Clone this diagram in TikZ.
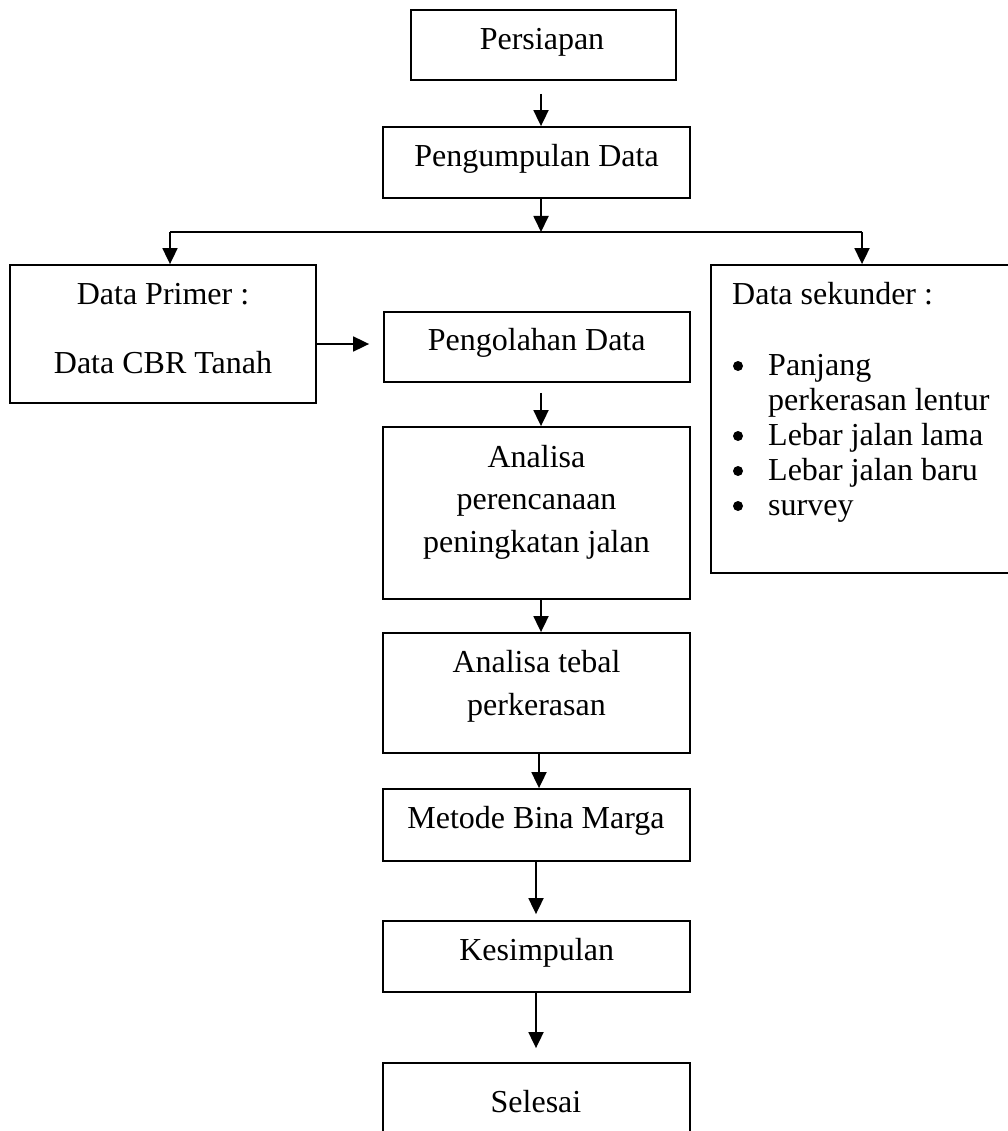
\documentclass[tikz,border=0pt]{standalone}
\usepackage{fontspec}
\setmainfont{Liberation Serif}
\usetikzlibrary{arrows.meta}
\begin{document}
\begin{tikzpicture}[x=1pt,y=-1pt,
  box/.style={draw, line width=1.8pt, rectangle, inner sep=0pt},
  txt/.style={anchor=base, inner sep=0pt, font=\fontsize{32}{38}\selectfont},
  txtl/.style={txt, anchor=base west},
  bullet/.style={circle, fill=black, inner sep=0pt, minimum size=10pt},
  arr/.style={line width=1.8pt, -{Triangle[length=16pt,width=15pt]}},
  ln/.style={line width=1.8pt}]
\useasboundingbox (0,0) rectangle (1008,1131);
% boxes
\node[box, minimum width=265pt, minimum height=70pt] (persiapan) at (543.5,45) {};
\node[box, minimum width=307pt, minimum height=71pt] (kumpul) at (536.5,162.5) {};
\node[box, minimum width=306pt, minimum height=138pt] (primer) at (163,334) {};
\node[box, minimum width=301pt, minimum height=308pt] (sekunder) at (861.5,419) {};
\node[box, minimum width=306pt, minimum height=70pt] (olah) at (537,347) {};
\node[box, minimum width=307pt, minimum height=172pt] (analisa) at (536.5,513) {};
\node[box, minimum width=307pt, minimum height=120pt] (tebal) at (536.5,693) {};
\node[box, minimum width=307pt, minimum height=72pt] (metode) at (536.5,825) {};
\node[box, minimum width=307pt, minimum height=71pt] (kesimpulan) at (536.5,956.5) {};
\node[box, minimum width=307pt, minimum height=77pt] (selesai) at (536.5,1101.5) {};
% texts
\node[txt] (tPersiapan) at (542,50) {Persiapan};
\node[txt] (tKumpul) at (536.5,167) {Pengumpulan Data};
\node[txt] (tPrimerA) at (163,305) {Data Primer :};
\node[txt] (tPrimerB) at (163,373) {Data CBR Tanah};
\node[txtl] (tSek) at (732,305) {Data sekunder :};
\node[bullet] (bA) at (738,366) {};
\node[txtl] (sA) at (768,375) {Panjang};
\node[txtl] (sA2) at (768,410) {perkerasan lentur};
\node[bullet] (bB) at (738,436) {};
\node[txtl] (sB) at (768,445) {Lebar jalan lama};
\node[bullet] (bC) at (738,471) {};
\node[txtl] (sC) at (768,480) {Lebar jalan baru};
\node[bullet] (bD) at (738,506) {};
\node[txtl] (sD) at (768,515) {survey};
\node[txt] (tOlah) at (536.7,350) {Pengolahan Data};
\node[txt] (tAnA) at (536.5,467) {Analisa};
\node[txt] (tAnB) at (536.5,509) {perencanaan};
\node[txt] (tAnC) at (536.5,552) {peningkatan jalan};
\node[txt] (tTbA) at (536.5,672) {Analisa tebal};
\node[txt] (tTbB) at (536.5,715) {perkerasan};
\node[txt] (tMetode) at (536,828) {Metode Bina Marga};
\node[txt] (tKes) at (536.7,960) {Kesimpulan};
\node[txt] (tSelesai) at (536,1112) {Selesai};
% connectors
\coordinate (split) at (541,232);
\coordinate (bl) at (170,232);
\coordinate (br) at (862,232);
\draw[arr] ([xshift=-2.5pt,yshift=-13pt]persiapan.south) -- ([xshift=4.5pt]kumpul.north);
\draw[arr] ([xshift=4.5pt]kumpul.south) -- (split);
\draw[ln] (bl) -- (br);
\draw[arr] (bl) -- (bl |- primer.north);
\draw[arr] (br) -- (br |- sekunder.north);
\draw[arr] ([yshift=-10pt]primer.east) -- ([xshift=-14pt,yshift=3pt]olah.west);
\draw[arr] ([xshift=4pt,yshift=-10pt]olah.south) -- ([xshift=4.5pt]analisa.north);
\draw[arr] ([xshift=4.5pt]analisa.south) -- ([xshift=4.5pt]tebal.north);
\draw[arr] ([xshift=2.5pt]tebal.south) -- ([xshift=2.5pt]metode.north);
\draw[arr] ([xshift=-0.5pt]metode.south) -- ([xshift=-0.5pt,yshift=6pt]kesimpulan.north);
\draw[arr] ([xshift=-0.5pt]kesimpulan.south) -- ([xshift=-0.5pt,yshift=14pt]selesai.north);
\end{tikzpicture}
\end{document}
